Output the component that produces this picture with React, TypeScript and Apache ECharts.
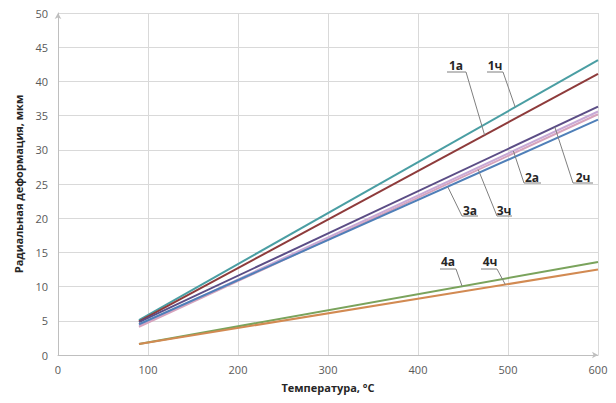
import React, { useEffect, useRef } from "react";
import * as echarts from "echarts";

const xRange = [90, 600];
const s1ch = [5.1, 43.1];
const s1a = [4.9, 41.1];
const s2ch = [4.8, 36.3];
const s2a = [4.3, 35.6];
const s3ch = [4.1, 35.2];
const s3a = [4.5, 34.4];
const s4a = [1.6, 13.6];
const s4ch = [1.6, 12.5];

const seriesDefs = [
  { name: "1ч", data: s1ch, color: "#4a9ea3" },
  { name: "1а", data: s1a, color: "#8e3b3b" },
  { name: "2ч", data: s2ch, color: "#5b4d86" },
  { name: "2а", data: s2a, color: "#c7a9d6" },
  { name: "3ч", data: s3ch, color: "#d6a3bd" },
  { name: "3а", data: s3a, color: "#4f7fb8" },
  { name: "4а", data: s4a, color: "#7aa35c" },
  { name: "4ч", data: s4ch, color: "#d28a52" },
];

// annotation: label text, series index, x where leader meets line, text center, underline span
const annotations = [
  { text: "1а", s: 1, at: 474, tx: 456, ty: 65, u0: 447, u1: 466, uy: 72, fromLeft: false },
  { text: "1ч", s: 0, at: 508, tx: 495, ty: 65, u0: 487, u1: 503, uy: 72, fromLeft: false },
  { text: "2а", s: 3, at: 506, tx: 532, ty: 177, u0: 524, u1: 541, uy: 183, fromLeft: true },
  { text: "2ч", s: 2, at: 552, tx: 583, ty: 177, u0: 573, u1: 593, uy: 183, fromLeft: true },
  { text: "3а", s: 5, at: 433, tx: 470, ty: 210, u0: 462, u1: 478, uy: 216, fromLeft: true },
  { text: "3ч", s: 4, at: 467, tx: 504, ty: 210, u0: 497, u1: 512, uy: 216, fromLeft: true },
  { text: "4а", s: 6, at: 449, tx: 448, ty: 261, u0: 440, u1: 456, uy: 269, fromLeft: false },
  { text: "4ч", s: 7, at: 497, tx: 490, ty: 261, u0: 481, u1: 497, uy: 269, fromLeft: false },
];

export default function App() {
  const ref = useRef<HTMLDivElement>(null);
  useEffect(() => {
    if (!ref.current) return;
    const chart = echarts.init(ref.current, null, { renderer: "svg" });
    const font = "'Open Sans', 'Noto Sans', sans-serif";
    chart.setOption({
      animation: false,
      backgroundColor: "#ffffff",
      grid: { left: 58, right: 18, top: 13, bottom: 48 },
      xAxis: {
        type: "value",
        min: 0,
        max: 600,
        interval: 100,
        name: "Температура, °С",
        nameLocation: "middle",
        nameGap: 27,
        nameTextStyle: { fontFamily: font, fontSize: 11, fontWeight: "bold", color: "#262626" },
        axisLine: { show: true, symbol: ["none", "arrow"], symbolSize: [5, 6], lineStyle: { color: "#bfbfbf", width: 1 } },
        axisTick: { show: false },
        axisLabel: { fontFamily: font, fontSize: 11, color: "#595959", margin: 9 },
        splitLine: { show: true, lineStyle: { color: "#d9d9d9", width: 1 } },
      },
      yAxis: {
        type: "value",
        min: 0,
        max: 50,
        interval: 5,
        name: "Радиальная деформация, мкм",
        nameLocation: "middle",
        nameGap: 34,
        nameTextStyle: { fontFamily: font, fontSize: 11, fontWeight: "bold", color: "#262626" },
        axisLine: { show: true, symbol: ["none", "arrow"], symbolSize: [5, 6], lineStyle: { color: "#bfbfbf", width: 1 } },
        axisTick: { show: false },
        axisLabel: { fontFamily: font, fontSize: 11, color: "#595959", margin: 10 },
        splitLine: { show: true, lineStyle: { color: "#d9d9d9", width: 1 } },
      },
      series: seriesDefs.map((d) => ({
        type: "line",
        name: d.name,
        data: xRange.map((x, i) => [x, d.data[i]]),
        showSymbol: false,
        symbol: "none",
        lineStyle: { color: d.color, width: 2 },
        itemStyle: { color: d.color },
      })),
    });

    const graphics: any[] = [];
    annotations.forEach((a) => {
      const d = seriesDefs[a.s].data;
      const yv = d[0] + ((a.at - xRange[0]) / (xRange[1] - xRange[0])) * (d[1] - d[0]);
      const p = chart.convertToPixel({ gridIndex: 0 }, [a.at, yv]) as number[];
      const sx = a.fromLeft ? a.u0 : a.u1;
      graphics.push({
        type: "line",
        shape: { x1: a.u0, y1: a.uy, x2: a.u1, y2: a.uy },
        style: { stroke: "#7f7f7f", lineWidth: 1 },
        z: 10,
      });
      graphics.push({
        type: "line",
        shape: { x1: sx, y1: a.uy, x2: p[0], y2: p[1] },
        style: { stroke: "#7f7f7f", lineWidth: 1 },
        z: 10,
      });
      graphics.push({
        type: "text",
        x: a.tx,
        y: a.ty,
        style: {
          text: a.text,
          fontFamily: font,
          fontSize: 12,
          fontWeight: "bold",
          fill: "#262626",
          align: "center",
          verticalAlign: "middle",
        },
        z: 11,
      });
    });
    chart.setOption({ graphic: graphics });
    return () => chart.dispose();
  }, []);
  return (
    <div
      ref={ref}
      style={{ position: "fixed", left: 0, top: 0, width: 616, height: 403, background: "#fff" }}
    />
  );
}
